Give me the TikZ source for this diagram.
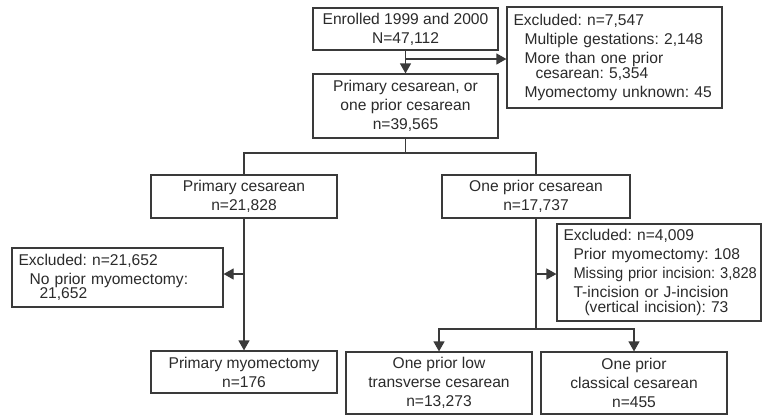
\documentclass[tikz,border=0pt]{standalone}
\usepackage{fontspec}
\setmainfont{Liberation Sans}
\usetikzlibrary{arrows.meta}
\definecolor{ink}{HTML}{2B2B2B}
\definecolor{edge}{HTML}{3A3A3A}
\newcommand\oneline[1]{\mbox{#1}}
\frenchspacing
\begin{document}
\begin{tikzpicture}[x=1pt,y=-1pt,
  every node/.style={font=\fontsize{15.6}{19}\selectfont\frenchspacing, text=ink},
  cbox/.style={draw=edge, line width=1.2pt, align=center, inner sep=2pt},
  lbox/.style={draw=edge, line width=1.2pt, align=left, inner xsep=6.5pt, inner ysep=2pt},
  link/.style={draw=edge, line width=1.2pt},
  arr/.style={link, -{Triangle[width=11pt,length=10pt]}}]
\useasboundingbox[fill=white] (0,0) rectangle (765,416);

\node[cbox, minimum width=185pt, minimum height=42pt] (enr) at (405.5,29) {Enrolled 1999 and 2000\\N=47,112};
\node[lbox, minimum width=215pt, minimum height=101pt, text width=202pt] (exc1) at (614.5,57.5)
 {\oneline{Excluded: n=7,547}\\
  \oneline{\hspace*{11pt}Multiple gestations: 2,148}\\
  \oneline{\hspace*{11pt}More than one prior}\\[-3.5pt]
  \oneline{\hspace*{22pt}cesarean: 5,354}\\
  \oneline{\hspace*{11pt}Myomectomy unknown: 45}};
\node[cbox, minimum width=185pt, minimum height=64pt] (pc) at (405.5,106) {Primary cesarean, or\\one prior cesarean\\n=39,565};
\node[cbox, minimum width=186pt, minimum height=43pt] (prim) at (244,196.5) {Primary cesarean\\n=21,828};
\node[cbox, minimum width=188pt, minimum height=43pt] (one) at (536,196.5) {One prior cesarean\\n=17,737};
\node[lbox, minimum width=211pt, minimum height=59pt, text width=198pt] (exc2) at (117.5,277.5)
 {\oneline{Excluded: n=21,652}\\
  \oneline{\hspace*{11pt}No prior myomectomy:}\\[-4.5pt]
  \oneline{\hspace*{21pt}21,652}};
\node[lbox, minimum width=204pt, minimum height=97pt, text width=191pt] (exc3) at (659,272.5)
 {\oneline{Excluded: n=4,009}\\
  \oneline{\hspace*{10pt}Prior myomectomy: 108}\\
  \oneline{\hspace*{10pt}\scalebox{0.94}[1]{Missing prior incision: 3,828}}\\
  \oneline{\hspace*{10pt}T-incision or J-incision}\\[-3.5pt]
  \oneline{\hspace*{21pt}(vertical incision): 73}};
\node[cbox, minimum width=186pt, minimum height=42pt] (myo) at (244,372) {Primary myomectomy\\n=176};
\node[cbox, minimum width=186pt, minimum height=62pt] (low) at (439,383) {One prior low\\transverse cesarean\\n=13,273};
\node[cbox, minimum width=186pt, minimum height=62pt] (cls) at (634,383) {One prior\\classical cesarean\\n=455};

\coordinate (j1) at (405.5,59);
\coordinate (b1) at (405.5,153);
\coordinate (j2) at (244,274);
\coordinate (j3) at (536,274);
\coordinate (b2) at (536,329);

\draw[arr] (enr.south) -- (pc.north);
\draw[arr] (j1) -- (j1 -| exc1.west);
\draw[link] (pc.south) -- (b1);
\draw[link] (prim.north) -- (prim.north |- b1) -- (one.north |- b1) -- (one.north);
\draw[arr] (prim.south) -- (myo.north);
\draw[arr] (j2) -- (j2 -| exc2.east);
\draw[link] (one.south) -- (b2);
\draw[arr] (b2) -| (low.north);
\draw[arr] (b2) -| (cls.north);
\draw[arr] (j3) -- (j3 -| exc3.west);
\end{tikzpicture}
\end{document}
